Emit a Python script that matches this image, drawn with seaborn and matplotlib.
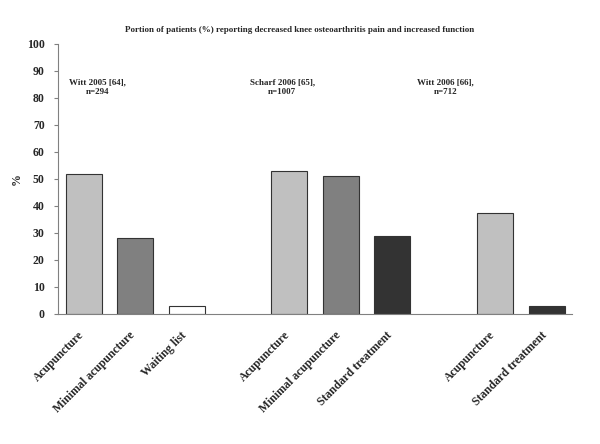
import matplotlib
matplotlib.use("Agg")
import matplotlib.pyplot as plt
import matplotlib.transforms as mtransforms
import seaborn as sns
import pandas as pd
import numpy as np
from matplotlib.ticker import FixedLocator

sns.set_style("white")
plt.rcParams['font.family'] = ['Liberation Serif', 'DejaVu Serif']
plt.rcParams['font.weight'] = 'bold'

slots = ["A1", "M1", "W1", "gap1", "A2", "M2", "S2", "gap2", "A3", "S3"]
tick_labels = ["Acupuncture", "Minimal acupuncture", "Waiting list", "",
               "Acupuncture", "Minimal acupuncture", "Standard treatment", "",
               "Acupuncture", "Standard treatment"]
bar_slots = ["A1", "M1", "W1", "A2", "M2", "S2", "A3", "S3"]
values = [52, 28, 3, 53, 51, 29, 37.5, 3]
treatment = ["Acupuncture", "Minimal acupuncture", "Waiting list",
             "Acupuncture", "Minimal acupuncture", "Standard treatment",
             "Acupuncture", "Standard treatment"]
study_labels = ["Witt 2005 [64],\nn=294", "Scharf 2006 [65],\nn=1007", "Witt 2006 [66],\nn=712"]
study_x = [0.26, 3.86, 7.03]
title = "Portion of patients (%) reporting decreased knee osteoarthritis pain and increased function"

colors = {"Acupuncture": "#C0C0C0", "Minimal acupuncture": "#808080",
          "Waiting list": "#FFFFFF", "Standard treatment": "#333333"}

df = pd.DataFrame({"slot": bar_slots, "value": values, "treatment": treatment})

fig = plt.figure(figsize=(6, 4.44), dpi=100)
ax = fig.add_axes([0.0967, 0.293, 0.857, 0.608])
sns.barplot(data=df, x="slot", y="value", hue="treatment", order=slots,
            palette=colors, dodge=False, width=0.7, ax=ax,
            edgecolor="#333333", linewidth=0.8, legend=False)

ax.set_xlim(-0.5, len(slots) - 0.5)
ax.set_ylim(0, 100)
ax.set_yticks(np.arange(0, 101, 10))
ax.set_yticklabels([str(v) for v in range(0, 101, 10)], fontsize=8.5, fontweight='bold')
ax.set_xticks(range(len(slots)))
ax.set_xticklabels(tick_labels, rotation=45, ha='right', rotation_mode='anchor',
                   fontsize=8.5, fontweight='bold')
ax.tick_params(axis='x', which='major', length=0, pad=11)
offset = mtransforms.ScaledTranslation(-6 / 100, 0, fig.dpi_scale_trans)
for lbl in ax.get_xticklabels():
    lbl.set_transform(lbl.get_transform() + offset)
ax.xaxis.set_minor_locator(FixedLocator(np.arange(-0.5, len(slots), 1.0)))
ax.tick_params(axis='x', which='minor', length=4, color='#808080', width=0.8, direction='out')
ax.tick_params(axis='y', which='major', length=3, color='#808080', width=0.8, direction='out', left=True, pad=6.5)

for s in ['top', 'right']:
    ax.spines[s].set_visible(False)
for s in ['left', 'bottom']:
    ax.spines[s].set_color('#808080')
    ax.spines[s].set_linewidth(0.8)

ax.set_xlabel("")
ax.set_ylabel("%", fontsize=8.5, fontweight='bold')
ax.yaxis.set_label_coords(-0.068, 0.5)

for x, lab in zip(study_x, study_labels):
    ax.text(x, 84, lab, ha='center', va='center', fontsize=6.5, fontweight='bold',
            linespacing=1.3)

fig.text(0.5, 0.933, title, ha='center', va='center', fontsize=6.5, fontweight='bold')

fig.savefig("out.png", dpi=100, facecolor='white')
